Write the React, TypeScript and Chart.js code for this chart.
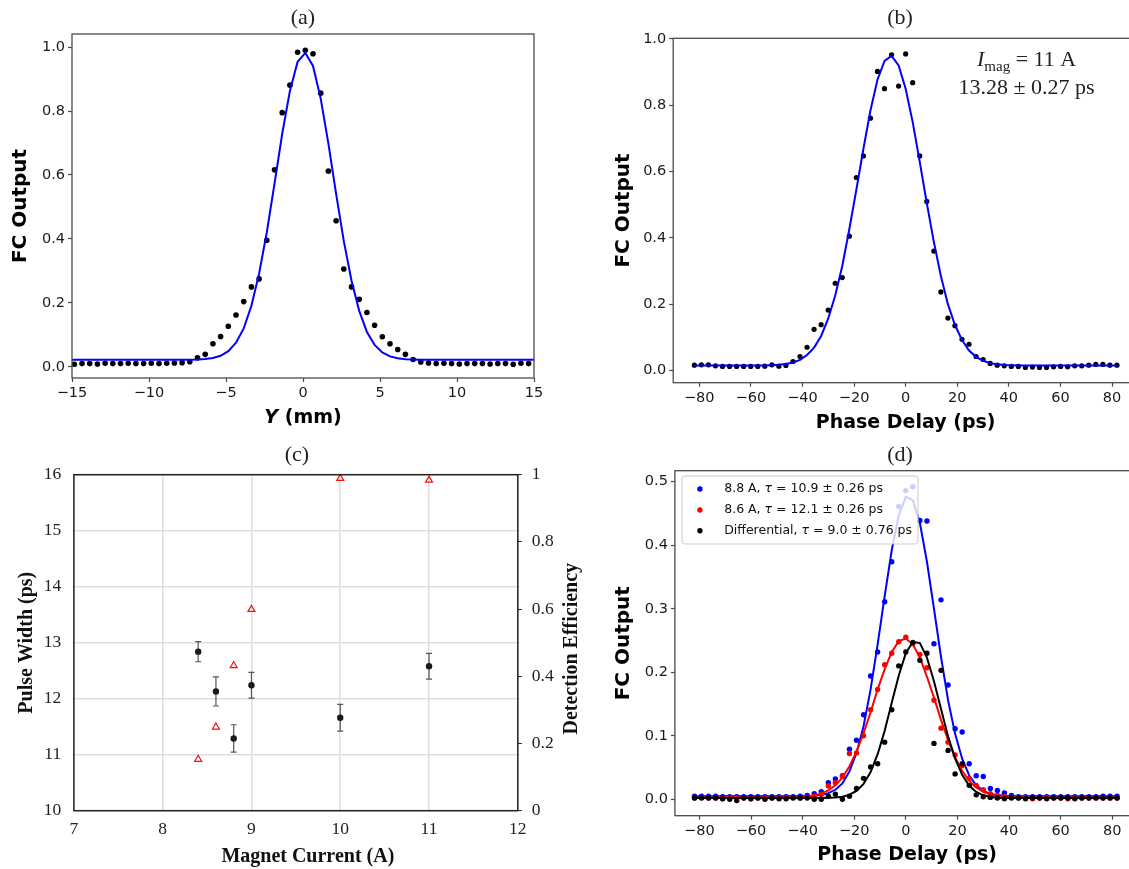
import React, { useEffect, useRef } from 'react';
import { Chart, registerables } from 'chart.js';

Chart.register(...registerables);

const SANS = '"DejaVu Sans", Verdana, sans-serif';
const SERIF = '"Liberation Serif", "Times New Roman", serif';
Chart.defaults.font.family = SANS;

// ---------------- (a) FC output vs Y ----------------
const yPosMm = [-14.85, -14.35, -13.85, -13.35, -12.85, -12.35, -11.85, -11.35, -10.85, -10.35, -9.85, -9.35, -8.85, -8.35, -7.85, -7.35, -6.85, -6.35, -5.85, -5.35, -4.85, -4.35, -3.85, -3.35, -2.85, -2.35, -1.85, -1.35, -0.85, -0.35, 0.15, 0.65, 1.15, 1.65, 2.15, 2.65, 3.15, 3.65, 4.15, 4.65, 5.15, 5.65, 6.15, 6.65, 7.15, 7.65, 8.15, 8.65, 9.15, 9.65, 10.15, 10.65, 11.15, 11.65, 12.15, 12.65, 13.15, 13.65, 14.15, 14.65];
const fcVsY = [0.008, 0.010, 0.010, 0.009, 0.011, 0.010, 0.010, 0.011, 0.010, 0.010, 0.011, 0.010, 0.011, 0.012, 0.013, 0.016, 0.028, 0.039, 0.072, 0.095, 0.127, 0.162, 0.204, 0.250, 0.275, 0.396, 0.616, 0.795, 0.881, 0.984, 0.990, 0.979, 0.856, 0.612, 0.457, 0.306, 0.250, 0.211, 0.170, 0.130, 0.094, 0.072, 0.054, 0.039, 0.023, 0.015, 0.012, 0.010, 0.011, 0.010, 0.009, 0.010, 0.010, 0.010, 0.009, 0.010, 0.010, 0.008, 0.011, 0.010];
const yFitMm = [-15, -7.35, -6.85, -6.35, -5.85, -5.35, -4.85, -4.35, -3.85, -3.35, -2.85, -2.35, -1.85, -1.35, -0.85, -0.35, 0.15, 0.65, 1.15, 1.65, 2.15, 2.65, 3.15, 3.65, 4.15, 4.65, 5.15, 5.65, 6.15, 6.65, 7.15, 7.65, 15];
const fcVsYFit = [0.022, 0.022, 0.0228, 0.0242, 0.0275, 0.0345, 0.0488, 0.0753, 0.120, 0.191, 0.292, 0.421, 0.573, 0.729, 0.863, 0.954, 0.982, 0.941, 0.839, 0.698, 0.541, 0.393, 0.269, 0.175, 0.109, 0.0687, 0.0451, 0.0327, 0.0266, 0.0238, 0.0227, 0.022, 0.022];

// ---------------- (b), (d) phase delay scans ----------------
const delayPs = [-81.9, -79.17, -76.44, -73.71, -70.98, -68.25, -65.52, -62.79, -60.06, -57.33, -54.6, -51.87, -49.14, -46.41, -43.68, -40.95, -38.22, -35.49, -32.76, -30.03, -27.3, -24.57, -21.84, -19.11, -16.38, -13.65, -10.92, -8.19, -5.46, -2.73, 0, 2.73, 5.46, 8.19, 10.92, 13.65, 16.38, 19.11, 21.84, 24.57, 27.3, 30.03, 32.76, 35.49, 38.22, 40.95, 43.68, 46.41, 49.14, 51.87, 54.6, 57.33, 60.06, 62.79, 65.52, 68.25, 70.98, 73.71, 76.44, 79.17, 81.9];
const fc11A = [0.016, 0.017, 0.017, 0.014, 0.012, 0.012, 0.012, 0.012, 0.012, 0.012, 0.013, 0.017, 0.013, 0.015, 0.027, 0.042, 0.070, 0.124, 0.138, 0.182, 0.263, 0.280, 0.405, 0.582, 0.647, 0.761, 0.902, 0.850, 0.952, 0.858, 0.955, 0.868, 0.647, 0.510, 0.360, 0.237, 0.158, 0.135, 0.094, 0.079, 0.042, 0.033, 0.021, 0.016, 0.014, 0.012, 0.012, 0.009, 0.010, 0.009, 0.009, 0.011, 0.012, 0.011, 0.014, 0.014, 0.016, 0.018, 0.018, 0.016, 0.016];
const fc11AFit = [0.015, 0.015, 0.015, 0.015, 0.015, 0.015, 0.015, 0.015, 0.015, 0.015, 0.015, 0.016, 0.0172, 0.0195, 0.024, 0.032, 0.0465, 0.069, 0.104, 0.156, 0.226, 0.315, 0.426, 0.545, 0.668, 0.784, 0.877, 0.934, 0.949, 0.920, 0.850, 0.749, 0.629, 0.505, 0.388, 0.285, 0.200, 0.137, 0.092, 0.060, 0.041, 0.029, 0.022, 0.0186, 0.0167, 0.0158, 0.015, 0.015, 0.015, 0.015, 0.015, 0.015, 0.015, 0.015, 0.015, 0.015, 0.015, 0.015, 0.015, 0.015, 0.015];

const fc88A = [0.005, 0.005, 0.005, 0.005, 0.004, 0.004, 0.004, 0.004, 0.004, 0.004, 0.004, 0.004, 0.004, 0.004, 0.004, 0.005, 0.006, 0.009, 0.012, 0.026, 0.032, 0.037, 0.079, 0.093, 0.133, 0.194, 0.232, 0.311, 0.374, 0.461, 0.486, 0.492, 0.439, 0.438, 0.245, 0.314, 0.180, 0.111, 0.106, 0.056, 0.037, 0.036, 0.017, 0.014, 0.010, 0.006, 0.004, 0.004, 0.004, 0.004, 0.004, 0.004, 0.004, 0.004, 0.004, 0.004, 0.004, 0.004, 0.005, 0.005, 0.005];
const fc86A = [0.002, 0.003, 0.002, 0.002, 0.001, 0.002, 0.002, 0.002, 0.001, 0.002, 0.002, 0.002, 0.002, 0.002, 0.003, 0.002, 0.003, 0.005, 0.008, 0.021, 0.026, 0.036, 0.072, 0.073, 0.100, 0.141, 0.173, 0.212, 0.230, 0.248, 0.255, 0.245, 0.228, 0.207, 0.156, 0.112, 0.090, 0.070, 0.053, 0.033, 0.022, 0.015, 0.009, 0.006, 0.004, 0.003, 0.002, 0.002, 0.001, 0.002, 0.002, 0.002, 0.002, 0.001, 0.002, 0.002, 0.002, 0.002, 0.002, 0.002, 0.002];
const fcDiff = [0.002, 0.002, 0.002, 0.002, 0.001, 0.000, -0.002, 0.002, 0.001, 0.002, 0.000, 0.002, 0.001, 0.001, 0.002, 0.002, 0.002, 0.000, 0.000, 0.005, 0.008, 0.000, 0.005, 0.017, 0.033, 0.051, 0.056, 0.090, 0.141, 0.210, 0.232, 0.247, 0.219, 0.230, 0.088, 0.203, 0.077, 0.040, 0.056, 0.022, 0.007, 0.004, 0.003, 0.002, 0.001, 0.002, 0.002, 0.001, 0.002, 0.002, 0.001, 0.002, 0.002, 0.002, 0.001, 0.002, 0.002, 0.002, 0.002, 0.002, 0.002];
const fc88AFit = [0.005, 0.005, 0.005, 0.005, 0.005, 0.005, 0.005, 0.005, 0.005, 0.005, 0.005, 0.005, 0.005, 0.005, 0.005, 0.005, 0.0053, 0.0058, 0.0069, 0.0097, 0.015, 0.025, 0.044, 0.073, 0.115, 0.173, 0.244, 0.320, 0.392, 0.447, 0.476, 0.471, 0.435, 0.374, 0.300, 0.224, 0.156, 0.103, 0.064, 0.0375, 0.022, 0.0133, 0.0086, 0.0066, 0.0056, 0.0052, 0.005, 0.005, 0.005, 0.005, 0.005, 0.005, 0.005, 0.005, 0.005, 0.005, 0.005, 0.005, 0.005, 0.005, 0.005];
const fc86AFit = [0.003, 0.003, 0.003, 0.003, 0.003, 0.003, 0.003, 0.003, 0.003, 0.003, 0.003, 0.003, 0.003, 0.003, 0.0033, 0.0037, 0.0045, 0.0061, 0.0089, 0.014, 0.022, 0.034, 0.052, 0.075, 0.104, 0.137, 0.173, 0.205, 0.232, 0.249, 0.253, 0.244, 0.223, 0.193, 0.160, 0.125, 0.093, 0.066, 0.045, 0.029, 0.0186, 0.0119, 0.0077, 0.0054, 0.0042, 0.0035, 0.0032, 0.003, 0.003, 0.003, 0.003, 0.003, 0.003, 0.003, 0.003, 0.003, 0.003, 0.003, 0.003, 0.003, 0.003];
const fcDiffFit = [0.002, 0.002, 0.002, 0.002, 0.002, 0.002, 0.002, 0.002, 0.002, 0.002, 0.002, 0.002, 0.002, 0.002, 0.002, 0.002, 0.002, 0.002, 0.002, 0.0023, 0.0028, 0.0041, 0.0072, 0.0132, 0.0243, 0.043, 0.071, 0.108, 0.152, 0.195, 0.230, 0.248, 0.246, 0.223, 0.186, 0.142, 0.099, 0.064, 0.0386, 0.0213, 0.0115, 0.0063, 0.0037, 0.0026, 0.002, 0.002, 0.002, 0.002, 0.002, 0.002, 0.002, 0.002, 0.002, 0.002, 0.002, 0.002, 0.002, 0.002, 0.002, 0.002, 0.002];
const legendLabels = ['8.8 A', '8.6 A', 'Differential'];
const legendTau = ['10.9 \u00b1 0.26', '12.1 \u00b1 0.26', '9.0 \u00b1 0.76'];
const legendColors = ['#0000ff', '#ff0000', '#000000'];

// ---------------- (c) pulse width / efficiency ----------------
const magnetCurrentA = [8.4, 8.6, 8.8, 9.0, 10, 11];
const pulseWidthPs = [12.84, 12.13, 11.29, 12.24, 11.66, 12.58];
const pulseWidthErr = [0.18, 0.26, 0.245, 0.23, 0.24, 0.23];
const detectionEff = [0.153, 0.249, 0.432, 0.599, 0.989, 0.984];

// ---------------- ticks & labels ----------------
const yMmTicks = [-15, -10, -5, 0, 5, 10, 15];
const fcTicks = [0, 0.2, 0.4, 0.6, 0.8, 1.0];
const delayTicks = [-80, -60, -40, -20, 0, 20, 40, 60, 80];
const fcSmallTicks = [0, 0.1, 0.2, 0.3, 0.4, 0.5];
const currentTicks = [7, 8, 9, 10, 11, 12];
const widthTicks = [10, 11, 12, 13, 14, 15, 16];
const effTicks = [0, 0.2, 0.4, 0.6, 0.8, 1];
const panelTitles = ['(a)', '(b)', '(c)', '(d)'];

// ---------------- helpers ----------------
const AXIS = '#4a4a4a';
const pts = (xs: number[], ys: number[]) => xs.map((x, i) => ({ x, y: ys[i] }));
const fixSize = (size: number) => (scale: any) => {
  if (scale.isHorizontal()) scale.height = size;
  else scale.width = size;
  scale.paddingLeft = 0;
  scale.paddingRight = 0;
  scale.paddingTop = 0;
  scale.paddingBottom = 0;
};
const fixTicks = (values: number[]) => (scale: any) => {
  scale.ticks = values.map((v) => ({ value: v }));
};
const minusFmt = (v: number) => (v < 0 ? '\u2212' + Math.abs(v) : String(v));
const oneDec = (v: number) => Number(v).toFixed(1);

function mplScale(min: number, max: number, ticks: number[], fmt: any, size: number, title: any) {
  return {
    type: 'linear',
    min,
    max,
    bounds: 'data',
    afterBuildTicks: fixTicks(ticks),
    afterFit: fixSize(size),
    border: { display: false },
    grid: { display: true, drawOnChartArea: false, drawTicks: true, tickLength: 4, tickColor: AXIS, tickWidth: 1.2, color: AXIS },
    ticks: { autoSkip: false, maxRotation: 0, minRotation: 0, padding: 3, color: '#1a1a1a', font: { family: SANS, size: 14.5 }, callback: fmt },
    title: title
      ? { display: true, text: title.text, color: '#000', font: { family: SANS, size: title.size, weight: 'bold' }, padding: title.padding }
      : { display: false },
  };
}

const framePlugin = {
  id: 'frame',
  afterDatasetsDraw(chart: any, _args: any, opts: any) {
    const { ctx, chartArea } = chart;
    ctx.save();
    ctx.strokeStyle = opts.color || AXIS;
    ctx.lineWidth = opts.width || 1.2;
    ctx.strokeRect(chartArea.left, chartArea.top, chartArea.right - chartArea.left, chartArea.bottom - chartArea.top);
    ctx.restore();
  },
};

type Run = { t: string; f: string; dy?: number };
function drawRuns(ctx: CanvasRenderingContext2D, runs: Run[], x: number, y: number, center: boolean) {
  let total = 0;
  for (const r of runs) {
    ctx.font = r.f;
    total += ctx.measureText(r.t).width;
  }
  let cx = center ? x - total / 2 : x;
  ctx.textAlign = 'left';
  for (const r of runs) {
    ctx.font = r.f;
    ctx.fillText(r.t, cx, y + (r.dy || 0));
    cx += ctx.measureText(r.t).width;
  }
  return cx;
}

const baseOptions = {
  responsive: false,
  animation: false,
  devicePixelRatio: 1,
  events: [],
};

// ---------------- chart builders ----------------
function buildA() {
  const titlePlugin = {
    id: 'aTitle',
    afterDraw(chart: any) {
      const { ctx, chartArea } = chart;
      ctx.save();
      ctx.fillStyle = '#000';
      ctx.textBaseline = 'middle';
      drawRuns(ctx, [
        { t: 'Y', f: `italic bold 19px ${SANS}` },
        { t: ' (mm)', f: `bold 19px ${SANS}` },
      ], (chartArea.left + chartArea.right) / 2, 418, true);
      ctx.restore();
    },
  };
  return {
    type: 'scatter',
    data: {
      datasets: [
        { data: pts(yFitMm, fcVsYFit), showLine: true, borderColor: '#0000ff', borderWidth: 2, pointRadius: 0, order: 0 },
        { data: pts(yPosMm, fcVsY), backgroundColor: '#000', borderColor: '#000', borderWidth: 0, pointRadius: 2.8, order: 1 },
      ],
    },
    options: {
      ...baseOptions,
      layout: { padding: { left: 0, top: 34, right: 26, bottom: 0 } },
      plugins: { legend: { display: false }, tooltip: { enabled: false }, frame: { color: AXIS, width: 1.3 } },
      scales: {
        x: mplScale(-15, 15, yMmTicks, minusFmt, 54, null),
        y: mplScale(-0.035, 1.041, fcTicks, oneDec, 72, { text: 'FC Output', size: 20, padding: { top: 8.7, bottom: 0 } }),
      },
    },
    plugins: [framePlugin, titlePlugin],
  };
}

function buildB() {
  const notePlugin = {
    id: 'bNote',
    afterDraw(chart: any) {
      const { ctx } = chart;
      ctx.save();
      ctx.fillStyle = '#222';
      ctx.textBaseline = 'alphabetic';
      drawRuns(ctx, [
        { t: 'I', f: `italic 22px ${SERIF}` },
        { t: 'mag', f: `15px ${SERIF}`, dy: 5 },
        { t: ' = 11 A', f: `22px ${SERIF}` },
      ], 426.6, 65.5, true);
      drawRuns(ctx, [{ t: '13.28 \u00b1 0.27 ps', f: `22px ${SERIF}` }], 426.6, 93.5, true);
      ctx.restore();
    },
  };
  return {
    type: 'scatter',
    data: {
      datasets: [
        { data: pts(delayPs, fc11AFit), showLine: true, borderColor: '#0000ff', borderWidth: 2, pointRadius: 0, order: 0 },
        { data: pts(delayPs, fc11A), backgroundColor: '#000', borderColor: '#000', borderWidth: 0, pointRadius: 2.6, order: 1 },
      ],
    },
    options: {
      ...baseOptions,
      layout: { padding: { left: 0, top: 38.3, right: 6.9, bottom: 0 } },
      plugins: { legend: { display: false }, tooltip: { enabled: false }, frame: { color: AXIS, width: 1.3 } },
      scales: {
        x: mplScale(-90.1, 90.1, delayTicks, minusFmt, 57.3, { text: 'Phase Delay (ps)', size: 19, padding: { top: 0, bottom: 5.6 } }),
        y: mplScale(-0.037, 1.002, fcTicks, oneDec, 73.2, { text: 'FC Output', size: 20, padding: { top: 11.6, bottom: 0 } }),
      },
    },
    plugins: [framePlugin, notePlugin],
  };
}

function buildC() {
  const errPlugin = {
    id: 'cErr',
    beforeDatasetsDraw(chart: any) {
      const { ctx, scales } = chart;
      ctx.save();
      ctx.strokeStyle = '#555';
      ctx.lineWidth = 1.2;
      magnetCurrentA.forEach((c, i) => {
        const px = scales.x.getPixelForValue(c);
        const y1 = scales.y.getPixelForValue(pulseWidthPs[i] - pulseWidthErr[i]);
        const y2 = scales.y.getPixelForValue(pulseWidthPs[i] + pulseWidthErr[i]);
        ctx.beginPath();
        ctx.moveTo(px, y1); ctx.lineTo(px, y2);
        ctx.moveTo(px - 3, y1); ctx.lineTo(px + 3, y1);
        ctx.moveTo(px - 3, y2); ctx.lineTo(px + 3, y2);
        ctx.stroke();
      });
      ctx.restore();
    },
    afterDraw(chart: any) {
      const { ctx, chartArea } = chart;
      ctx.save();
      ctx.fillStyle = '#111';
      ctx.textAlign = 'center';
      ctx.textBaseline = 'middle';
      ctx.font = `bold 20px ${SERIF}`;
      ctx.fillText('Magnet Current (A)', (chartArea.left + chartArea.right) / 2 + 12, 420.7);
      ctx.translate(chartArea.right + 54, (chartArea.top + chartArea.bottom) / 2 + 6);
      ctx.rotate(-Math.PI / 2);
      ctx.fillText('Detection Efficiency', 0, 0);
      ctx.restore();
    },
  };
  const serifTicks = (fmt: any, pad: number) => ({ autoSkip: false, maxRotation: 0, minRotation: 0, padding: pad, color: '#222', font: { family: SERIF, size: 17.5 }, callback: fmt });
  return {
    type: 'scatter',
    data: {
      datasets: [
        { data: pts(magnetCurrentA, pulseWidthPs), yAxisID: 'y', backgroundColor: '#1a1a1a', borderColor: '#1a1a1a', borderWidth: 0, pointRadius: 3.2, order: 0 },
        { data: pts(magnetCurrentA, detectionEff), yAxisID: 'y2', pointStyle: 'triangle', backgroundColor: 'rgba(0,0,0,0)', borderColor: '#ee1111', borderWidth: 1.2, pointRadius: 4, order: 1 },
      ],
    },
    options: {
      ...baseOptions,
      layout: { padding: { left: 0, top: 38.7, right: 0, bottom: 0 } },
      plugins: { legend: { display: false }, tooltip: { enabled: false }, frame: { color: '#222', width: 1.5 } },
      scales: {
        x: {
          type: 'linear', min: 7, max: 12, bounds: 'data',
          afterBuildTicks: fixTicks(currentTicks), afterFit: fixSize(58.3),
          border: { display: false },
          grid: { display: true, drawOnChartArea: true, drawTicks: false, color: '#dedede', lineWidth: 1.5 },
          ticks: serifTicks((v: number) => String(v), 8),
          title: { display: false },
        },
        y: {
          type: 'linear', position: 'left', min: 10, max: 16, bounds: 'data',
          afterBuildTicks: fixTicks(widthTicks), afterFit: fixSize(73.9),
          border: { display: false },
          grid: { display: true, drawOnChartArea: true, drawTicks: false, color: '#dedede', lineWidth: 1.5 },
          ticks: serifTicks((v: number) => String(v), 12.7),
          title: { display: true, text: 'Pulse Width (ps)', color: '#111', font: { family: SERIF, size: 20, weight: 'bold' }, padding: { top: 14.8, bottom: 0 } },
        },
        y2: {
          type: 'linear', position: 'right', min: 0, max: 1, bounds: 'data',
          afterBuildTicks: fixTicks(effTicks), afterFit: fixSize(82.2),
          border: { display: false },
          grid: { display: true, drawOnChartArea: false, drawTicks: true, tickLength: 4, tickColor: '#222', color: '#222' },
          ticks: serifTicks((v: number) => String(v), 10),
          title: { display: false },
        },
      },
    },
    plugins: [errPlugin, framePlugin],
  };
}

function buildD() {
  const legendPlugin = {
    id: 'dLegend',
    afterDatasetsDraw(chart: any) {
      const { ctx, chartArea } = chart;
      const L = chartArea.left;
      const T = chartArea.top;
      const font = `12.5px ${SANS}`;
      const ifont = `italic 12.5px ${SANS}`;
      const rows = legendLabels.map((lab, i) => [
        { t: lab + ', ', f: font },
        { t: '\u03c4', f: ifont },
        { t: ' = ' + legendTau[i] + ' ps', f: font },
      ]);
      let maxW = 0;
      rows.forEach((r) => {
        let w = 0;
        r.forEach((p) => { ctx.font = p.f; w += ctx.measureText(p.t).width; });
        maxW = Math.max(maxW, w);
      });
      const bx = L + 7.1;
      const by = T + 5.3;
      const bw = 49.3 - 7.1 + maxW + 6;
      const bh = 68;
      ctx.save();
      ctx.beginPath();
      const r = 3;
      ctx.moveTo(bx + r, by);
      ctx.arcTo(bx + bw, by, bx + bw, by + bh, r);
      ctx.arcTo(bx + bw, by + bh, bx, by + bh, r);
      ctx.arcTo(bx, by + bh, bx, by, r);
      ctx.arcTo(bx, by, bx + bw, by, r);
      ctx.closePath();
      ctx.fillStyle = 'rgba(255,255,255,0.8)';
      ctx.fill();
      ctx.strokeStyle = '#cccccc';
      ctx.lineWidth = 1;
      ctx.stroke();
      const rowY = [18.3, 39.3, 60];
      rows.forEach((row, i) => {
        const y = T + rowY[i];
        ctx.fillStyle = legendColors[i];
        ctx.beginPath();
        ctx.arc(L + 25, y, 2.7, 0, Math.PI * 2);
        ctx.fill();
        ctx.fillStyle = '#111';
        ctx.textBaseline = 'middle';
        drawRuns(ctx, row, L + 49.3, y, false);
      });
      ctx.restore();
    },
  };
  const dots = (ys: number[], color: string, order: number) => ({ data: pts(delayPs, ys), backgroundColor: color, borderColor: color, borderWidth: 0, pointRadius: 2.7, order });
  const fit = (ys: number[], color: string, order: number) => ({ data: pts(delayPs, ys), showLine: true, borderColor: color, borderWidth: 2, pointRadius: 0, order });
  return {
    type: 'scatter',
    data: {
      datasets: [
        dots(fc88A, '#0000ff', 5),
        fit(fc88AFit, '#0000ff', 4),
        dots(fc86A, '#ff0000', 3),
        fit(fc86AFit, '#ff0000', 2),
        dots(fcDiff, '#000000', 1),
        fit(fcDiffFit, '#000000', 0),
      ],
    },
    options: {
      ...baseOptions,
      layout: { padding: { left: 0, top: 30.7, right: 5.7, bottom: 0 } },
      plugins: { legend: { display: false }, tooltip: { enabled: false }, frame: { color: AXIS, width: 1.3 } },
      scales: {
        x: mplScale(-89.5, 90.5, delayTicks, minusFmt, 53.3, { text: 'Phase Delay (ps)', size: 19, padding: { top: 0, bottom: 2.6 } }),
        y: mplScale(-0.0258, 0.5173, fcSmallTicks, oneDec, 74.9, { text: 'FC Output', size: 20, padding: { top: 11.6, bottom: 0 } }),
      },
    },
    plugins: [framePlugin, legendPlugin],
  };
}

function ChartCanvas({ left, top, width, height, build }: any) {
  const ref = useRef<HTMLCanvasElement | null>(null);
  useEffect(() => {
    if (!ref.current) return;
    const chart = new Chart(ref.current, build() as any);
    return () => chart.destroy();
  }, [build]);
  return (
    <canvas
      ref={ref}
      width={width}
      height={height}
      style={{ position: 'absolute', left, top, width, height, display: 'block' }}
    />
  );
}

const titlePos = [
  { x: 303, y: 17 },
  { x: 900, y: 17 },
  { x: 297, y: 454 },
  { x: 900, y: 454 },
];

export default function App() {
  return (
    <div style={{ position: 'fixed', left: 0, top: 0, width: 1129, height: 869, overflow: 'hidden', background: '#ffffff' }}>
      <ChartCanvas left={0} top={0} width={560} height={432} build={buildA} />
      <ChartCanvas left={600} top={0} width={545} height={440} build={buildB} />
      <ChartCanvas left={0} top={436} width={600} height={433} build={buildC} />
      <ChartCanvas left={600} top={440} width={545} height={429} build={buildD} />
      {panelTitles.map((t, i) => (
        <div
          key={t}
          style={{
            position: 'absolute',
            left: titlePos[i].x - 40,
            top: titlePos[i].y - 13,
            width: 80,
            height: 26,
            lineHeight: '26px',
            textAlign: 'center',
            fontFamily: SERIF,
            fontSize: 22,
            color: '#222',
          }}
        >
          {t}
        </div>
      ))}
    </div>
  );
}
